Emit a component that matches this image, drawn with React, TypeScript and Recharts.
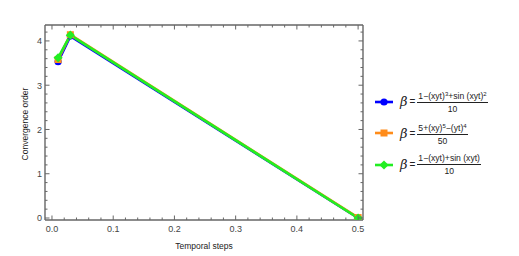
import React from "react";
import { LineChart, Line, XAxis, YAxis } from "recharts";

// temporal steps and convergence orders
const steps = [0.01, 0.03, 0.5];
const orderA = [3.53, 4.11, 0.0];
const orderB = [3.58, 4.14, 0.01];
const orderC = [3.62, 4.13, 0.0];

const xTicks = [
  0, 0.02, 0.04, 0.06, 0.08, 0.1, 0.12, 0.14, 0.16, 0.18, 0.2, 0.22, 0.24, 0.26,
  0.28, 0.3, 0.32, 0.34, 0.36, 0.38, 0.4, 0.42, 0.44, 0.46, 0.48, 0.5,
];
const yTicks = [
  0, 0.2, 0.4, 0.6, 0.8, 1, 1.2, 1.4, 1.6, 1.8, 2, 2.2, 2.4, 2.6, 2.8, 3, 3.2,
  3.4, 3.6, 3.8, 4, 4.2,
];

const data = steps.map((s, i) => ({
  step: s,
  a: orderA[i],
  b: orderB[i],
  c: orderC[i],
}));

const FONT = "'Liberation Sans', Arial, sans-serif";
const FRAME = "#666";
const BLUE = "#0000ff";
const ORANGE = "#ff8c1a";
const GREEN = "#22ee22";

const isMajor = (v: number, step: number) =>
  Math.abs(v / step - Math.round(v / step)) < 1e-6;

function BottomTick({ x, y, payload }: any) {
  const v = payload.value;
  const major = isMajor(v, 0.1);
  return (
    <g>
      <line x1={x} x2={x} y1={y} y2={y - (major ? 4.5 : 2.5)} stroke={FRAME} />
      {major && (
        <text x={x} y={y + 12} textAnchor="middle" fontSize={9} fill="#444" fontFamily={FONT}>
          {v.toFixed(1)}
        </text>
      )}
    </g>
  );
}

function TopTick({ x, y, payload }: any) {
  const major = isMajor(payload.value, 0.1);
  return <line x1={x} x2={x} y1={y} y2={y + (major ? 4.5 : 2.5)} stroke={FRAME} />;
}

function LeftTick({ x, y, payload }: any) {
  const v = payload.value;
  const major = isMajor(v, 1);
  return (
    <g>
      <line x1={x} x2={x + (major ? 4.5 : 2.5)} y1={y} y2={y} stroke={FRAME} />
      {major && (
        <text x={x - 3} y={y + 3.3} textAnchor="end" fontSize={9} fill="#444" fontFamily={FONT}>
          {v}
        </text>
      )}
    </g>
  );
}

function RightTick({ x, y, payload }: any) {
  const major = isMajor(payload.value, 1);
  return <line x1={x} x2={x - (major ? 4.5 : 2.5)} y1={y} y2={y} stroke={FRAME} />;
}

const square = (color: string) => (p: any) => (
  <rect key={p.index} x={p.cx - 3.5} y={p.cy - 3.5} width={7} height={7} fill={color} />
);
const circle = (color: string) => (p: any) => (
  <circle key={p.index} cx={p.cx} cy={p.cy} r={3.6} fill={color} />
);
const diamond = (color: string) => (p: any) => (
  <path
    key={p.index}
    d={`M${p.cx},${p.cy - 4.6}L${p.cx + 4.6},${p.cy}L${p.cx},${p.cy + 4.6}L${p.cx - 4.6},${p.cy}Z`}
    fill={color}
  />
);

function Frac({ top, bottom }: { top: React.ReactNode; bottom: string }) {
  return (
    <span style={{ display: "inline-flex", flexDirection: "column", alignItems: "center", fontSize: 8.6, lineHeight: "10px" }}>
      <span style={{ borderBottom: "1px solid #222", padding: "0 1px 1px" }}>{top}</span>
      <span style={{ paddingTop: 1 }}>{bottom}</span>
    </span>
  );
}

const sup = { fontSize: 6, verticalAlign: "3px" } as const;

const legendItems = [
  {
    color: BLUE,
    marker: "circle",
    top: (
      <>
        1−(xyt)<span style={sup}>3</span>+sin (xyt)<span style={sup}>2</span>
      </>
    ),
    bottom: "10",
  },
  {
    color: ORANGE,
    marker: "square",
    top: (
      <>
        5+(xy)<span style={sup}>5</span>−(yt)<span style={sup}>4</span>
      </>
    ),
    bottom: "50",
  },
  { color: GREEN, marker: "diamond", top: <>1−(xyt)+sin (xyt)</>, bottom: "10" },
];

function LegendMarker({ color, marker }: { color: string; marker: string }) {
  return (
    <svg width={20} height={10} style={{ marginRight: 6 }}>
      <line x1={1} x2={19} y1={5} y2={5} stroke={color} strokeWidth={2.6} />
      {marker === "circle" && <circle cx={10} cy={5} r={3.6} fill={color} />}
      {marker === "square" && <rect x={6.5} y={1.5} width={7} height={7} fill={color} />}
      {marker === "diamond" && <path d="M10,0.4L14.6,5L10,9.6L5.4,5Z" fill={color} />}
    </svg>
  );
}

export default function App() {
  return (
    <div style={{ position: "absolute", left: 0, top: 0, width: 519, height: 256, background: "#fff", fontFamily: FONT }}>
      <LineChart width={519} height={256} data={data} margin={{ top: 24, left: 44, right: 155, bottom: 35 }}>
        <XAxis
          xAxisId={0}
          dataKey="step"
          type="number"
          domain={[-0.0114, 0.508]}
          ticks={xTicks}
          interval={0}
          height={1}
          tickSize={0}
          tickMargin={0}
          tick={<BottomTick />}
          axisLine={{ stroke: FRAME, strokeWidth: 1.4 }}
          allowDataOverflow
        />
        <XAxis
          xAxisId="top"
          orientation="top"
          dataKey="step"
          type="number"
          domain={[-0.0114, 0.508]}
          ticks={xTicks}
          interval={0}
          height={1}
          tickSize={0}
          tickMargin={0}
          tick={<TopTick />}
          axisLine={{ stroke: FRAME, strokeWidth: 1.4 }}
          allowDataOverflow
        />
        <YAxis
          yAxisId={0}
          type="number"
          domain={[-0.045, 4.36]}
          ticks={yTicks}
          interval={0}
          width={1}
          tickSize={0}
          tickMargin={0}
          tick={<LeftTick />}
          axisLine={{ stroke: FRAME, strokeWidth: 1.4 }}
          allowDataOverflow
        />
        <YAxis
          yAxisId="right"
          orientation="right"
          type="number"
          domain={[-0.045, 4.36]}
          ticks={yTicks}
          interval={0}
          width={1}
          tickSize={0}
          tickMargin={0}
          tick={<RightTick />}
          axisLine={{ stroke: FRAME, strokeWidth: 1.4 }}
          allowDataOverflow
        />
        <Line dataKey="a" stroke={BLUE} strokeWidth={2.6} dot={circle(BLUE)} isAnimationActive={false} />
        <Line dataKey="b" stroke={ORANGE} strokeWidth={2.6} dot={square(ORANGE)} isAnimationActive={false} />
        <Line dataKey="c" stroke={GREEN} strokeWidth={2.6} dot={diamond(GREEN)} isAnimationActive={false} />
        <text x={204} y={249} textAnchor="middle" fontSize={8.5} fill="#222" fontFamily={FONT}>
          Temporal steps
        </text>
        <text
          x={28}
          y={124}
          textAnchor="middle"
          fontSize={8.5}
          fill="#222"
          fontFamily={FONT}
          transform="rotate(-90 28 124)"
        >
          Convergence order
        </text>
      </LineChart>
      <div style={{ position: "absolute", left: 374, top: 86, color: "#222" }}>
        {legendItems.map((it, i) => (
          <div key={i} style={{ display: "flex", alignItems: "center", height: 31.5 }}>
            <LegendMarker color={it.color} marker={it.marker} />
            <span style={{ fontStyle: "italic", fontSize: 13, fontFamily: "'DejaVu Serif', serif" }}>β</span>
            <span style={{ fontSize: 10, margin: "0 2px 0 2px" }}>=</span>
            <Frac top={it.top} bottom={it.bottom} />
          </div>
        ))}
      </div>
    </div>
  );
}
